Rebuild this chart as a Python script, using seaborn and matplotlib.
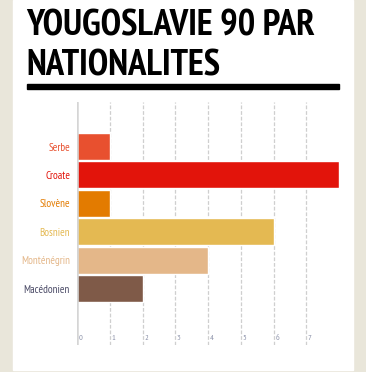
import seaborn as sns
import matplotlib.pyplot as plt
import matplotlib.patches as mpatches
import pandas as pd

# Data
nationalites = ['Serbe', 'Croate', 'Slovène', 'Bosnien', 'Monténégrin', 'Macédonien']
valeurs = [1, 8, 1, 6, 4, 2]
couleurs = ['#E8502F', '#E2140B', '#E37B00', '#E4B952', '#E4B789', '#7F5A48']
couleurs_labels = ['#E8502F', '#E2140B', '#E37B00', '#E4B952', '#E4B789', '#4A4A66']
ticks = [0, 1, 2, 3, 4, 5, 6, 7]

df = pd.DataFrame({'nat': nationalites, 'val': valeurs})

sns.set_style('white')
plt.rcParams['font.family'] = ['PT Sans Narrow', 'DejaVu Sans']

fig = plt.figure(figsize=(3.66, 3.72), dpi=100)
fig.patch.set_facecolor('#E9E6DA')
# white panel
fig.patches.append(mpatches.Rectangle((13 / 366, 2 / 372), 340 / 366, 370 / 372,
                                      transform=fig.transFigure, color='white', zorder=-5))

ax = fig.add_axes([77 / 366, 1 - 345 / 372, 262 / 366, 243 / 372])
ax.set_facecolor('none')

sns.barplot(df, x='val', y='nat', hue='nat', palette=couleurs, legend=False,
            width=0.95, saturation=1, ax=ax, zorder=2)

ax.set_xlim(0, 8)
ax.set_ylim(6.99, -1.57)
ax.set_xlabel('')
ax.set_ylabel('')

# grid
for t in ticks[1:]:
    ax.axvline(t, color='#CFCFCF', lw=0.9, ls=(0, (3, 1.5)), zorder=1)
ax.axvline(0, color='#D5D5D5', lw=1.8, zorder=3)
ax.set_xticks([])
for t in ticks:
    ax.text(t + 0.05, 0.012, str(t), transform=ax.get_xaxis_transform(),
            fontsize=6, color='#8A90A8', ha='left', va='bottom')

ax.set_yticks(range(len(nationalites)))
ax.set_yticklabels(nationalites, fontsize=8)
for lab, c in zip(ax.get_yticklabels(), couleurs_labels):
    lab.set_color(c)
ax.tick_params(axis='y', length=0, pad=5)
sns.despine(ax=ax, left=True, bottom=True)

# title
fig.text(26 / 366, 1 - 35 / 372, 'YOUGOSLAVIE 90 PAR', fontsize=26.5,
         fontweight='bold', color='black', ha='left', va='baseline')
fig.text(26 / 366, 1 - 75 / 372, 'NATIONALITES', fontsize=26.5,
         fontweight='bold', color='black', ha='left', va='baseline')
fig.patches.append(mpatches.Rectangle((27 / 366, 1 - 89 / 372), 312 / 366, 5 / 372,
                                      transform=fig.transFigure, color='black', zorder=1))

plt.savefig('out.png', dpi=100, facecolor=fig.get_facecolor())
